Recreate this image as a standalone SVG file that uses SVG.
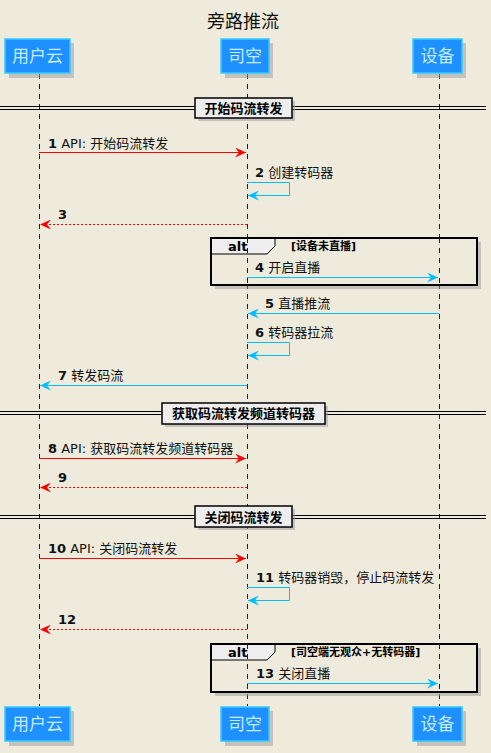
<svg xmlns="http://www.w3.org/2000/svg" width="491" height="753" viewBox="0 0 491 753">
<style>
text{font-family:"DejaVu Sans","Noto Sans CJK SC",sans-serif;}
.title{font-size:18px;fill:#111;}
.pbox{fill:#1E90FF;stroke:#33CCFF;stroke-width:1.5;}
.shadow{fill:#999;opacity:0.5;}
.ptxt{font-size:17px;fill:#C8EBFF;text-anchor:middle;}
.life{stroke:#0000FF;stroke-width:1;stroke-dasharray:5,5;fill:none;}
.msg{font-size:13px;fill:#111;}
.num{font-weight:bold;}
.red{stroke:#FF0000;stroke-width:1;fill:none;}
.reddash{stroke:#FF0000;stroke-width:1;fill:none;stroke-dasharray:2,2;}
.blue{stroke:#00BFFF;stroke-width:1;fill:none;}
.dline{stroke:#000;stroke-width:1;fill:none;}
.dbox{fill:#EEEEEE;stroke:#000;stroke-width:1.5;}
.dtxt{font-size:13px;font-weight:bold;fill:#000;text-anchor:middle;}
.altbox{fill:none;stroke:#000;stroke-width:2;}
.alttab{fill:#EEEEEE;stroke:#000;stroke-width:1;}
.alttxt{font-size:13px;font-weight:bold;fill:#000;}
.cond{font-size:11px;font-weight:bold;fill:#000;}
</style>
<defs>
<marker id="ar" markerWidth="12" markerHeight="10" refX="11" refY="5" orient="auto" markerUnits="userSpaceOnUse">
<path d="M0,0 L11,5 L0,10 L4,5 Z" fill="#FF0000"/>
</marker>
<marker id="ab" markerWidth="12" markerHeight="10" refX="11" refY="5" orient="auto" markerUnits="userSpaceOnUse">
<path d="M0,0 L11,5 L0,10 L4,5 Z" fill="#00BFFF"/>
</marker>
</defs>
<rect width="491" height="753" fill="#EEEBDC"/>
<text class="title" x="243" y="28" text-anchor="middle">旁路推流</text>

<g id="lifelines">
<line class="life" x1="39.5" y1="74" x2="39.5" y2="706"/>
<line class="life" x1="247.5" y1="74" x2="247.5" y2="706"/>
<line class="life" x1="439.5" y1="74" x2="439.5" y2="706"/>
</g>

<g id="p-user-top"><rect class="shadow" x="9" y="43" width="65" height="35"/><rect class="pbox" x="5" y="39" width="65" height="34"/><text class="ptxt" x="37.5" y="62">用户云</text></g>
<g id="p-sikong-top"><rect class="shadow" x="225" y="43" width="48" height="35"/><rect class="pbox" x="221" y="39" width="48" height="34"/><text class="ptxt" x="245" y="62">司空</text></g>
<g id="p-device-top"><rect class="shadow" x="417" y="43" width="49" height="35"/><rect class="pbox" x="413" y="39" width="49" height="34"/><text class="ptxt" x="437.5" y="62">设备</text></g>

<g id="p-user-bottom"><rect class="shadow" x="9" y="711" width="65" height="35"/><rect class="pbox" x="5" y="707" width="65" height="34"/><text class="ptxt" x="37.5" y="730">用户云</text></g>
<g id="p-sikong-bottom"><rect class="shadow" x="225" y="711" width="48" height="35"/><rect class="pbox" x="221" y="707" width="48" height="34"/><text class="ptxt" x="245" y="730">司空</text></g>
<g id="p-device-bottom"><rect class="shadow" x="417" y="711" width="49" height="35"/><rect class="pbox" x="413" y="707" width="49" height="34"/><text class="ptxt" x="437.5" y="730">设备</text></g>

<g id="div1">
<line class="dline" x1="0" y1="106.5" x2="486" y2="106.5"/><line class="dline" x1="0" y1="109.5" x2="486" y2="109.5"/>
<rect class="shadow" x="198" y="101" width="97" height="20"/>
<rect class="dbox" x="195" y="98" width="97" height="20"/>
<text class="dtxt" x="243.5" y="113">开始码流转发</text>
</g>
<g id="div2">
<line class="dline" x1="0" y1="411.5" x2="486" y2="411.5"/><line class="dline" x1="0" y1="414.5" x2="486" y2="414.5"/>
<rect class="shadow" x="165" y="406" width="163" height="21"/>
<rect class="dbox" x="162" y="403" width="163" height="21"/>
<text class="dtxt" x="243.5" y="418">获取码流转发频道转码器</text>
</g>
<g id="div3">
<line class="dline" x1="0" y1="515.5" x2="486" y2="515.5"/><line class="dline" x1="0" y1="518.5" x2="486" y2="518.5"/>
<rect class="shadow" x="198" y="509" width="97" height="21"/>
<rect class="dbox" x="195" y="506" width="97" height="21"/>
<text class="dtxt" x="243.5" y="522">关闭码流转发</text>
</g>

<g id="alt1">
<rect class="shadow" x="215" y="242" width="266" height="47"/>
<rect x="211" y="238" width="266" height="47" fill="#EEEBDC"/>
<path class="alttab" d="M211,238 L275,238 L275,246 L267,254 L211,254 Z"/>
<rect class="altbox" x="211" y="238" width="266" height="47"/>
<text class="alttxt" x="228" y="251">alt</text>
<text class="cond" x="291" y="250">[设备未直播]</text>
</g>
<g id="alt2">
<rect class="shadow" x="215" y="648" width="266" height="48"/>
<rect x="211" y="644" width="266" height="48" fill="#EEEBDC"/>
<path class="alttab" d="M211,644 L275,644 L275,652 L267,660 L211,660 Z"/>
<rect class="altbox" x="211" y="644" width="266" height="48"/>
<text class="alttxt" x="228" y="657">alt</text>
<text class="cond" x="291" y="656">[司空端无观众+无转码器]</text>
</g>

<g id="lifelines-over">
<line class="life" x1="247.5" y1="238" x2="247.5" y2="285"/>
<line class="life" x1="439.5" y1="238" x2="439.5" y2="285"/>
<line class="life" x1="247.5" y1="644" x2="247.5" y2="692"/>
<line class="life" x1="439.5" y1="644" x2="439.5" y2="692"/>
</g>

<g id="connectors">
<line class="red" x1="39" y1="152.5" x2="246" y2="152.5" marker-end="url(#ar)"/>
<text class="msg" x="48" y="148"><tspan class="num">1</tspan> API: 开始码流转发</text>

<path class="blue" d="M247,182.5 H289.5 V195.5 H248" marker-end="url(#ab)"/>
<text class="msg" x="255" y="177"><tspan class="num">2</tspan> 创建转码器</text>

<line class="reddash" x1="247" y1="224.5" x2="40" y2="224.5" marker-end="url(#ar)"/>
<text class="msg" x="58" y="219"><tspan class="num">3</tspan></text>

<line class="blue" x1="247" y1="277.5" x2="438" y2="277.5" marker-end="url(#ab)"/>
<text class="msg" x="255" y="272"><tspan class="num">4</tspan> 开启直播</text>

<line class="blue" x1="439" y1="313.5" x2="248" y2="313.5" marker-end="url(#ab)"/>
<text class="msg" x="265" y="308"><tspan class="num">5</tspan> 直播推流</text>

<path class="blue" d="M247,342.5 H289.5 V355.5 H248" marker-end="url(#ab)"/>
<text class="msg" x="255" y="337"><tspan class="num">6</tspan> 转码器拉流</text>

<line class="blue" x1="247" y1="385.5" x2="40" y2="385.5" marker-end="url(#ab)"/>
<text class="msg" x="58" y="380"><tspan class="num">7</tspan> 转发码流</text>

<line class="red" x1="39" y1="458.5" x2="246" y2="458.5" marker-end="url(#ar)"/>
<text class="msg" x="48" y="453"><tspan class="num">8</tspan> API: 获取码流转发频道转码器</text>

<line class="reddash" x1="247" y1="487.5" x2="40" y2="487.5" marker-end="url(#ar)"/>
<text class="msg" x="58" y="482"><tspan class="num">9</tspan></text>

<line class="red" x1="39" y1="558.5" x2="246" y2="558.5" marker-end="url(#ar)"/>
<text class="msg" x="48" y="553"><tspan class="num">10</tspan> API: 关闭码流转发</text>

<path class="blue" d="M247,587.5 H289.5 V600.5 H248" marker-end="url(#ab)"/>
<text class="msg" x="256" y="582"><tspan class="num">11</tspan> 转码器销毁，停止码流转发</text>

<line class="reddash" x1="247" y1="629.5" x2="40" y2="629.5" marker-end="url(#ar)"/>
<text class="msg" x="58" y="624"><tspan class="num">12</tspan></text>

<line class="blue" x1="247" y1="683.5" x2="438" y2="683.5" marker-end="url(#ab)"/>
<text class="msg" x="256" y="678"><tspan class="num">13</tspan> 关闭直播</text>
</g>
</svg>
